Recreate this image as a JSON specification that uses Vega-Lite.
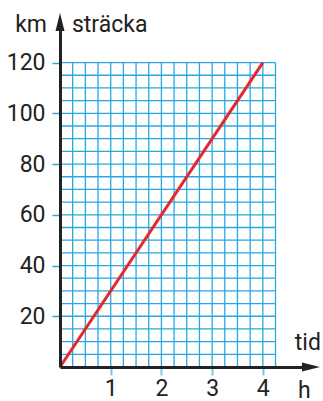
{
  "$schema": "https://vega.github.io/schema/vega-lite/v6.json",
  "width": 251,
  "height": 345,
  "autosize": {"type": "none"},
  "padding": {"left": 60, "top": 22, "right": 12, "bottom": 34},
  "config": {"view": {"stroke": null}, "font": "Roboto"},
  "datasets": {
    "vgrid": [{"x":0.25},{"x":0.5},{"x":0.75},{"x":1},{"x":1.25},{"x":1.5},{"x":1.75},{"x":2},{"x":2.25},{"x":2.5},{"x":2.75},{"x":3},{"x":3.25},{"x":3.5},{"x":3.75},{"x":4},{"x":4.25}],
    "hgrid": [{"y":5},{"y":10},{"y":15},{"y":20},{"y":25},{"y":30},{"y":35},{"y":40},{"y":45},{"y":50},{"y":55},{"y":60},{"y":65},{"y":70},{"y":75},{"y":80},{"y":85},{"y":90},{"y":95},{"y":100},{"y":105},{"y":110},{"y":115},{"y":120}],
    "line": [{"tid":0,"stracka":0},{"tid":4,"stracka":120}],
    "labelsCenter": [
      {"x":-0.57,"y":132,"t":"km"},
      {"x":4.82,"y":-12.2,"t":"h"}
    ],
    "labelsLeft": [
      {"x":0.236,"y":132,"t":"sträcka"},
      {"x":4.63,"y":6.7,"t":"tid"}
    ]
  },
  "layer": [
    {
      "data": {"name": "vgrid"},
      "mark": {"type": "rule", "color": "#29a8e0", "strokeWidth": 1.3},
      "encoding": {
        "x": {"field": "x", "type": "quantitative", "scale": {"domain": [0, 4.95], "nice": false, "zero": false},
          "axis": {"values": [1,2,3,4], "title": null, "grid": false, "domainColor": "#222", "domainWidth": 3, "tickColor": "#7cc6e8", "tickWidth": 2, "tickSize": 8, "labelFontSize": 23, "labelColor": "#222", "labelPadding": 2, "zindex": 1}},
        "y": {"datum": 0, "type": "quantitative", "scale": {"domain": [0, 136], "nice": false, "zero": false},
          "axis": {"values": [20,40,60,80,100,120], "title": null, "grid": false, "domainColor": "#222", "domainWidth": 3, "tickColor": "#29a8e0", "tickWidth": 1.5, "tickSize": 8, "labelFontSize": 23, "labelColor": "#222", "labelPadding": 7, "zindex": 1}},
        "y2": {"datum": 120}
      }
    },
    {
      "data": {"name": "hgrid"},
      "mark": {"type": "rule", "color": "#29a8e0", "strokeWidth": 1.3},
      "encoding": {
        "y": {"field": "y", "type": "quantitative"},
        "x": {"datum": 0, "type": "quantitative"},
        "x2": {"datum": 4.25}
      }
    },
    {
      "data": {"name": "line"},
      "mark": {"type": "line", "color": "#e8262b", "strokeWidth": 3},
      "encoding": {
        "x": {"field": "tid", "type": "quantitative"},
        "y": {"field": "stracka", "type": "quantitative"}
      }
    },
    {
      "data": {"values": [{"x": 4.95, "y": 0}]},
      "mark": {"type": "point", "shape": "M-1,-0.5L1,0L-1,0.5Z", "size": 324, "filled": true, "color": "#222", "opacity": 1},
      "encoding": {
        "x": {"field": "x", "type": "quantitative"},
        "y": {"field": "y", "type": "quantitative"}
      }
    },
    {
      "data": {"values": [{"x": 0, "y": 136}]},
      "mark": {"type": "point", "shape": "M-0.5,1L0,-1L0.5,1Z", "size": 324, "filled": true, "color": "#222", "opacity": 1},
      "encoding": {
        "x": {"field": "x", "type": "quantitative"},
        "y": {"field": "y", "type": "quantitative"}
      }
    },
    {
      "data": {"name": "labelsCenter"},
      "mark": {"type": "text", "fontSize": 23, "color": "#222", "baseline": "alphabetic", "align": "center"},
      "encoding": {
        "x": {"field": "x", "type": "quantitative"},
        "y": {"field": "y", "type": "quantitative"},
        "text": {"field": "t"}
      }
    },
    {
      "data": {"name": "labelsLeft"},
      "mark": {"type": "text", "fontSize": 23, "color": "#222", "baseline": "alphabetic", "align": "left"},
      "encoding": {
        "x": {"field": "x", "type": "quantitative"},
        "y": {"field": "y", "type": "quantitative"},
        "text": {"field": "t"}
      }
    }
  ]
}
